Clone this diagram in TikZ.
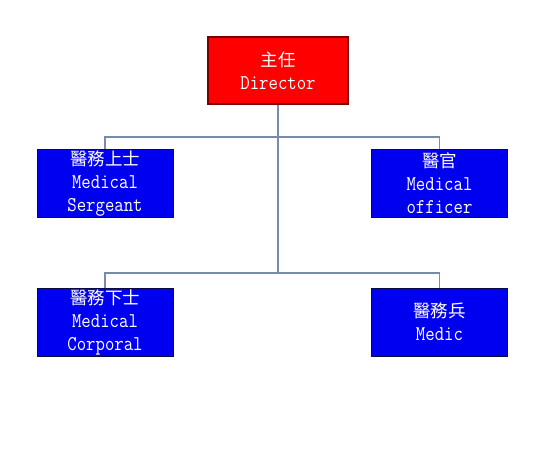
\documentclass[tikz,border=0pt]{standalone}
\usepackage{fontspec}
\usepackage{tikz}
\newfontfamily\cjk{Noto Sans CJK TC}
\newfontfamily\latn[FakeStretch=0.87]{Latin Modern Mono}
\definecolor{boxblue}{RGB}{0,0,240}
\definecolor{boxred}{RGB}{255,0,0}
\definecolor{edgered}{RGB}{120,0,0}
\definecolor{edgeblue}{RGB}{10,10,70}
\definecolor{wire}{RGB}{120,140,170}
\tikzset{
  rank/.style={draw=edgeblue,fill=boxblue,text=white,line width=0.8pt,
    minimum width=136pt,minimum height=68pt,inner sep=0pt,align=center,
    font=\latn\fontsize{21}{23}\selectfont},
  chief/.style={rank,draw=edgered,fill=boxred,line width=2pt,
    minimum width=140pt,minimum height=67pt}
}
\newcommand{\hanzi}[1]{\raisebox{0pt}[15pt][0pt]{\cjk\fontsize{17.5}{23}\selectfont #1}}

\begin{document}
\begin{tikzpicture}[x=1pt,y=1pt,thick,node distance=139pt]
    \fill[white] (0,0) rectangle (543,448);
    \useasboundingbox (0,0) rectangle (543,448);
    \node[chief] (dir) at (278,377.5)                                 {\hanzi{主任}\\Director};
    \node[rank]  (sgt) [below of=dir,node distance=112.5pt,xshift=-173pt] {\hanzi{醫務上士}\\Medical\\Sergeant};
    \node[rank]  (off) [right of=sgt,node distance=334.5pt]           {\hanzi{醫官}\\Medical\\officer};
    \node[rank]  (cpl) [below of=sgt]                                 {\hanzi{醫務下士}\\Medical\\Corporal};
    \node[rank]  (med) [below of=off]                                 {\hanzi{醫務兵}\\Medic};
    \coordinate (top) at (278,311);
    \coordinate (bot) at (278,175);
    \draw[wire,line width=1.2pt]
      (dir) -- (bot)
      (sgt) |- (top) -| (off)
      (cpl) |- (bot) -| (med);
    % redraw boxes over the wires
    \node[chief] at (dir) {\hanzi{主任}\\Director};
    \node[rank]  at (sgt) {\hanzi{醫務上士}\\Medical\\Sergeant};
    \node[rank]  at (off) {\hanzi{醫官}\\Medical\\officer};
    \node[rank]  at (cpl) {\hanzi{醫務下士}\\Medical\\Corporal};
    \node[rank]  at (med) {\hanzi{醫務兵}\\Medic};
  \end{tikzpicture}
\end{document}
